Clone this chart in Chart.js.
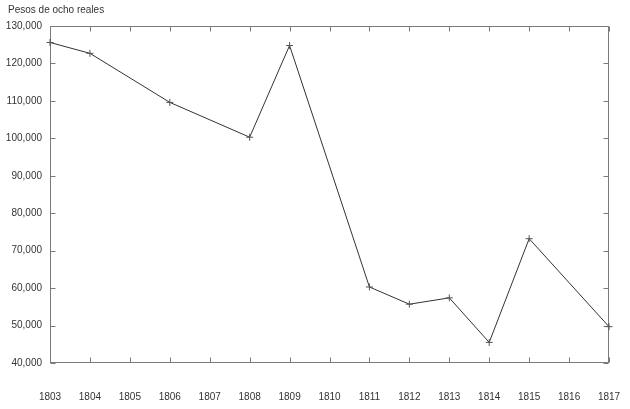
<!DOCTYPE html>
<html>
<head>
<meta charset="utf-8">
<script src="https://cdn.jsdelivr.net/npm/chart.js@4/dist/chart.umd.min.js"></script>
<style>
html,body{margin:0;padding:0;background:#fff;}
#wrap{width:630px;height:409px;}
</style>
</head>
<body>
<div id="wrap"><canvas id="c" width="630" height="409"></canvas></div>
<script>
const yAxisTitle = 'Pesos de ocho reales';
const years = ['1803','1804','1805','1806','1807','1808','1809','1810','1811','1812','1813','1814','1815','1816','1817'];
const pesos = [125600, 122700, null, 109600, null, 100300, 124800, null, 60300, 55700, 57400, 45500, 73200, null, 49700];
const yMin = 40000, yMax = 130000, yStep = 10000;

const FONT = '"Liberation Sans", Arial, sans-serif';

const framePlugin = {
  id: 'frame',
  beforeDatasetsDraw(chart) {
    const {ctx, chartArea: a, scales: {x, y}} = chart;
    ctx.save();
    ctx.strokeStyle = '#7a7a7a';
    ctx.lineWidth = 1;
    const L = Math.round(a.left) + 0.5, R = Math.round(a.right) - 0.5;
    const T = Math.round(a.top) + 0.5, B = Math.round(a.bottom) - 0.5;
    ctx.strokeRect(L, T, R - L, B - T);
    ctx.beginPath();
    x.ticks.forEach((t, i) => {
      const px = Math.round(x.getPixelForTick(i)) + 0.5;
      ctx.moveTo(px, B); ctx.lineTo(px, B - 5);
      ctx.moveTo(px, T); ctx.lineTo(px, T + 5);
    });
    y.ticks.forEach((t, i) => {
      const py = Math.round(y.getPixelForTick(i)) + 0.5;
      ctx.moveTo(L, py); ctx.lineTo(L + 5, py);
      ctx.moveTo(R, py); ctx.lineTo(R - 5, py);
    });
    ctx.stroke();
    ctx.fillStyle = '#333';
    ctx.font = '10px ' + FONT;
    ctx.textBaseline = 'middle';
    ctx.textAlign = 'left';
    ctx.fillText(yAxisTitle, 8, 10);
    ctx.restore();
  }
};

new Chart(document.getElementById('c'), {
  type: 'line',
  data: {
    labels: years,
    datasets: [{
      data: pesos,
      spanGaps: true,
      borderColor: '#333',
      borderWidth: 1,
      tension: 0,
      pointStyle: 'cross',
      pointRadius: 3.5,
      pointBorderColor: '#555',
      pointBorderWidth: 1,
      fill: false
    }]
  },
  options: {
    responsive: false,
    animation: false,
    devicePixelRatio: 1,
    layout: {padding: {left: 0, right: 21, top: 26, bottom: 0}},
    plugins: {legend: {display: false}, tooltip: {enabled: false}, title: {display: false}},
    scales: {
      x: {
        type: 'category',
        offset: false,
        grid: {display: false, drawTicks: false},
        border: {display: false},
        ticks: {color: '#333', font: {family: FONT, size: 10}, padding: 28, maxRotation: 0, autoSkip: false},
        afterFit(s) { s.height = 46; s.paddingLeft = 0; s.paddingRight = 0; }
      },
      y: {
        min: yMin, max: yMax,
        grid: {display: false, drawTicks: false},
        border: {display: false},
        ticks: {
          stepSize: yStep,
          color: '#333',
          font: {family: FONT, size: 10},
          padding: 8,
          callback: v => v.toLocaleString('en-US')
        },
        afterFit(s) { s.width = 50; s.paddingTop = 0; s.paddingBottom = 0; }
      }
    }
  },
  plugins: [framePlugin]
});
</script>
</body>
</html>
